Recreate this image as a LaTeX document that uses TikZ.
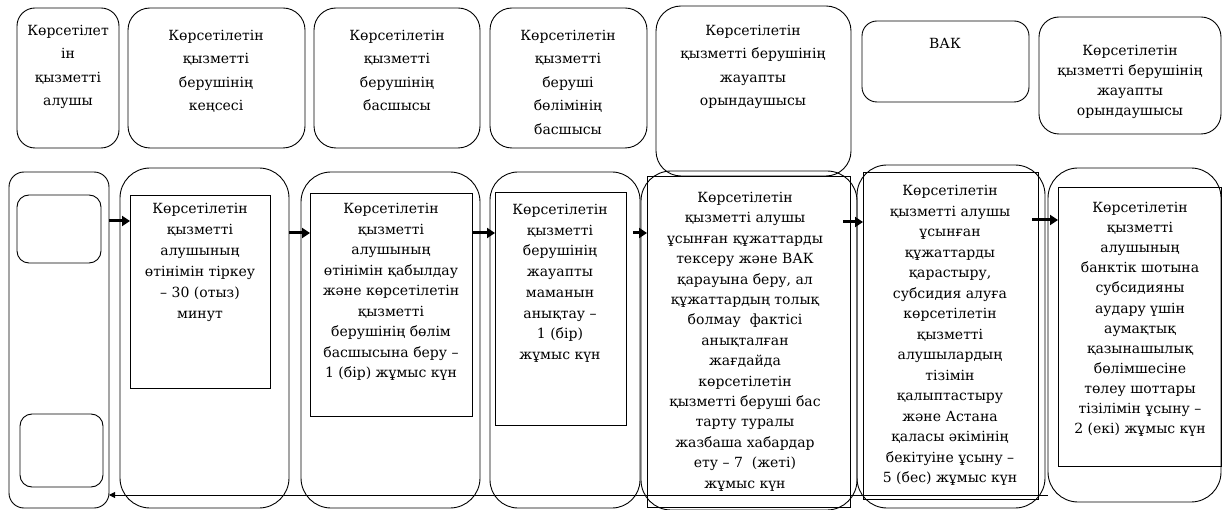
\documentclass[tikz,border=0pt]{standalone}
\usepackage{fontspec}
\setmainfont{DejaVu Serif}
\newfontfamily\tnr{DejaVu Serif}
\usetikzlibrary{arrows.meta}
\begin{document}
\begin{tikzpicture}[x=1pt,y=-1pt,
  rbox/.style={draw, line width=0.9pt, inner sep=0pt, outer sep=0pt, rounded corners=#1},
  sbox/.style={draw, line width=1pt, inner sep=0pt, outer sep=0pt},
  txt/.style={align=center, inner sep=0pt, anchor=north, font=\tnr\fontsize{14}{20.4}\selectfont},
  htxt/.style={align=center, inner sep=0pt, anchor=north, font=\tnr\fontsize{14}{23.5}\selectfont},
  flow/.style={line width=3pt, -{Triangle[length=8pt,width=10pt]}},
  back/.style={line width=0.9pt, -{Triangle[length=6pt,width=6pt]}}
]
\useasboundingbox (0,0) rectangle (1222,510);
% header boxes
\node[rbox=18pt, minimum width=102pt, minimum height=140pt] (h1) at (68,78) {};
\node[rbox=22pt, minimum width=177pt, minimum height=140pt] (h2) at (216.5,78) {};
\node[rbox=22pt, minimum width=166pt, minimum height=140pt] (h3) at (397,78) {};
\node[rbox=22pt, minimum width=157pt, minimum height=140pt] (h4) at (568.5,78) {};
\node[rbox=25pt, minimum width=195pt, minimum height=170pt] (h5) at (753.5,91) {};
\node[rbox=15pt, minimum width=167pt, minimum height=81pt] (h6) at (945.5,61.5) {};
\node[rbox=20pt, minimum width=182pt, minimum height=117pt] (h7) at (1130,75.5) {};
% header texts
\node[htxt] (th1) at (68,25) {Көрсетілет\\ін\\қызметті\\алушы};
\node[htxt] (th2) at (216,30) {Көрсетілетін\\қызметті\\берушінің\\кеңсесі};
\node[htxt] (th3) at (397,30) {Көрсетілетін\\қызметті\\берушінің\\басшысы};
\node[htxt] (th4) at (568,30) {Көрсетілетін\\қызметті\\беруші\\бөлімінің\\басшысы};
\node[htxt] (th5) at (753,25) {Көрсетілетін\\қызметті берушінің\\жауапты\\орындаушысы};
\node[htxt] (th6) at (945,38) {ВАК};
\node[txt, font=\tnr\fontsize{14}{20}\selectfont] (th7) at (1130,45) {Көрсетілетін\\қызметті берушінің\\жауапты\\орындаушысы};
% lanes
\node[rbox=15pt, minimum width=100pt, minimum height=336pt] (l1) at (59,340) {};
\node[rbox=12pt, minimum width=84pt, minimum height=68pt] (s1) at (59,229) {};
\node[rbox=12pt, minimum width=83pt, minimum height=73pt] (s2) at (61.5,450.5) {};
\node[rbox=30pt, minimum width=169pt, minimum height=340pt] (l2) at (204.5,338) {};
\node[rbox=30pt, minimum width=179pt, minimum height=336pt] (l3) at (390.5,340) {};
\node[rbox=28pt, minimum width=150pt, minimum height=336pt] (l4) at (565,340) {};
\node[rbox=30pt, minimum width=216pt, minimum height=339pt] (l5) at (749,340.5) {};
\node[rbox=30pt, minimum width=188pt, minimum height=343pt] (l6) at (951,336.5) {};
\node[rbox=30pt, minimum width=173pt, minimum height=334pt] (l7) at (1134.5,335) {};
% step boxes
\node[sbox, minimum width=140pt, minimum height=192pt] (r2) at (200,292) {};
\node[sbox, minimum width=162pt, minimum height=222pt] (r3) at (391,305) {};
\node[sbox, minimum width=131pt, minimum height=232pt] (r4) at (560.5,309) {};
\node[sbox, minimum width=203pt, minimum height=330pt] (r5) at (748.5,342) {};
\node[sbox, minimum width=175pt, minimum height=326pt] (r6) at (950.5,336) {};
\node[sbox, minimum width=163pt, minimum height=278pt] (r7) at (1139.5,327) {};
% step texts
\node[txt, font=\tnr\fontsize{14}{21}\selectfont] (t2) at (200,203) {Көрсетілетін\\қызметті\\алушының\\өтінімін тіркеу\\– 30 (отыз)\\минут};
\node[txt, font=\tnr\fontsize{14}{20.5}\selectfont] (t3) at (391,203) {Көрсетілетін\\қызметті\\алушының\\өтінімін қабылдау\\және көрсетілетін\\қызметті\\берушінің бөлім\\басшысына беру –\\1 (бір) жұмыс күн};
\node[txt, font=\tnr\fontsize{14}{20.7}\selectfont] (t4) at (560,204) {Көрсетілетін\\қызметті\\берушінің\\жауапты\\маманын\\анықтау –\\1 (бір)\\жұмыс күн};
\node[txt] (t5) at (745,192) {Көрсетілетін\\қызметті алушы\\ұсынған құжаттарды\\тексеру және ВАК\\қарауына беру, ал\\құжаттардың толық\\болмау\ \ фактісі\\анықталған\\жағдайда\\көрсетілетін\\қызметті беруші бас\\тарту туралы\\жазбаша хабардар\\ету – 7\ \ (жеті)\\жұмыс күн};
\node[txt, font=\tnr\fontsize{14}{20.5}\selectfont] (t6) at (950,185) {Көрсетілетін\\қызметті алушы\\ұсынған\\құжаттарды\\қарастыру,\\субсидия алуға\\көрсетілетін\\қызметті\\алушылардың\\тізімін\\қалыптастыру\\және Астана\\қаласы әкімінің\\бекітуіне ұсыну –\\5 (бес) жұмыс күн};
\node[txt, font=\tnr\fontsize{14}{20.1}\selectfont] (t7) at (1140,202) {Көрсетілетін\\қызметті\\алушының\\банктік шотына\\субсидияны\\аудару үшін\\аумақтық\\қазынашылық\\бөлімшесіне\\төлеу шоттары\\тізілімін ұсыну –\\2 (екі) жұмыс күн};
% connectors
\draw[flow] (l1.east |- 0,221) -- (r2.west |- 0,221);
\draw[flow] (l2.east |- 0,233) -- (r3.west |- 0,233);
\draw[flow] (r3.east |- 0,233) -- (r4.west |- 0,233);
\draw[flow] ([xshift=7pt]r4.east |- 0,233) -- (r5.west |- 0,233);
\draw[flow] ([xshift=-7pt]r5.east |- 0,222) -- (r6.west |- 0,222);
\draw[flow] ([xshift=-6pt]r6.east |- 0,220) -- (r7.west |- 0,220);
\draw[back] (l7.west |- 0,495) -- (l1.east |- 0,495);
\end{tikzpicture}
\end{document}
